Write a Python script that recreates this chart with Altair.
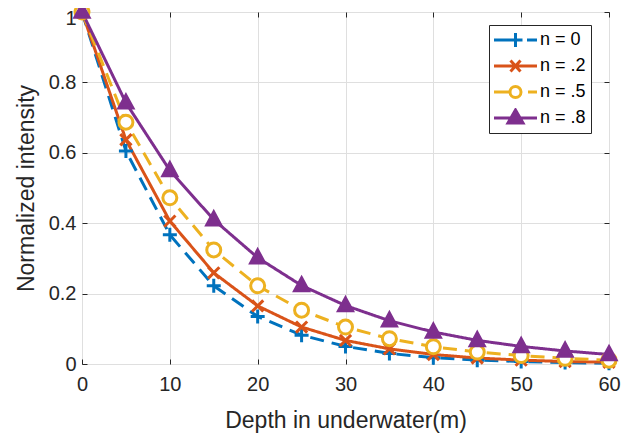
import altair as alt
import pandas as pd

depth = [0, 5, 10, 15, 20, 25, 30, 35, 40, 45, 50, 55, 60]
n_0 = [1.0, 0.605, 0.367, 0.222, 0.135, 0.082, 0.050, 0.030, 0.018, 0.011, 0.007, 0.004, 0.002]
n_2 = [1.0, 0.637, 0.406, 0.259, 0.165, 0.105, 0.067, 0.043, 0.027, 0.017, 0.011, 0.007, 0.005]
n_5 = [1.0, 0.687, 0.472, 0.324, 0.222, 0.153, 0.105, 0.072, 0.049, 0.034, 0.024, 0.016, 0.011]
n_8 = [1.0, 0.742, 0.550, 0.410, 0.302, 0.223, 0.166, 0.123, 0.091, 0.067, 0.050, 0.037, 0.027]

series = ["n = 0", "n = .2", "n = .5", "n = .8"]
values = [n_0, n_2, n_5, n_8]
colors = ["#0072BD", "#D95319", "#EDB120", "#7E2F8E"]
fills = ["#0072BD", "#D95319", "#FFFFFF", "#7E2F8E"]
dashes = [[14, 8], [1, 0], [14, 8], [1, 0]]

x_ticks = [0, 10, 20, 30, 40, 50, 60]
y_ticks = [0, 0.2, 0.4, 0.6, 0.8, 1]


def ring(cx, r):
    # circle drawn as four quarter arcs
    return (f"M{cx + r},0A{r},{r} 0 0,1 {cx},{r}A{r},{r} 0 0,1 {cx - r},0"
            f"A{r},{r} 0 0,1 {cx},{-r}A{r},{r} 0 0,1 {cx + r},0Z")


# marker shapes used on the curves (unit box -1..1)
plot_shapes = [
    "M-1,0H1M0,-1V1",
    "M-0.8,-0.8L0.8,0.8M-0.8,0.8L0.8,-0.8",
    ring(0, 1),
    "M0,-1.1L1,0.75L-1,0.75Z",
]

# legend glyphs: line sample + marker; symbol box is 43px wide (unit 21.5px),
# its centre sits 23px from the legend content's left edge
SYM = 43.0
UNIT = SYM / 2
CEN = 23.0

def ux(p):
    return round((p - CEN) / UNIT, 4)

def uy(p):
    return round(p / UNIT, 4)

def seg(a, b):
    return f"M{ux(a)},0H{ux(b)}"

mx = 21.5
legend_shapes = [
    seg(0, 25) + seg(33, 43) + f"M{ux(mx)},{uy(-7)}V{uy(7)}M{ux(mx - 7)},0H{ux(mx + 7)}",
    seg(0, 43) + f"M{ux(mx - 5)},{uy(-5.5)}L{ux(mx + 5)},{uy(5.5)}M{ux(mx - 5)},{uy(5.5)}L{ux(mx + 5)},{uy(-5.5)}",
    seg(0, 15) + seg(34, 43) + ring(ux(mx), uy(5.5)),
    seg(0, 43) + f"M{ux(mx)},{uy(-8)}L{ux(mx + 7.5)},{uy(5)}L{ux(mx - 7.5)},{uy(5)}Z",
]

rows = []
for name, vals in zip(series, values):
    for d, v in zip(depth, vals):
        rows.append({"depth": d, "value": v, "series": name})
df = pd.DataFrame(rows)

W, H = 527, 352
FONT = "Liberation Sans"
TXT = "#262626"

xs = alt.Scale(domain=[0, 60], nice=False, zero=False)
ys = alt.Scale(domain=[0, 1], nice=False)

base = alt.Chart(df)

lines = base.mark_line(strokeWidth=3).encode(
    x=alt.X("depth:Q", scale=xs, axis=alt.Axis(
        values=x_ticks, grid=True, gridColor="#dfdfdf", ticks=False, domain=False,
        labelFlush=False, labelOverlap=False,
        labelFont=FONT, labelFontSize=20, labelColor=TXT, labelPadding=10,
        title="Depth in underwater(m)", titleFont=FONT, titleFontSize=23,
        titleFontWeight="normal", titleColor=TXT, titleY=63, titleBaseline="alphabetic")),
    y=alt.Y("value:Q", scale=ys, axis=alt.Axis(
        values=y_ticks, format="~g", grid=True, gridColor="#dfdfdf", ticks=False, domain=False,
        labelFlush=False, labelOverlap=False,
        labelOffset=alt.ExprRef("datum.value == 1 ? 6 : 0"),
        labelFont=FONT, labelFontSize=20, labelColor=TXT, labelPadding=6,
        title="Normalized intensity", titleFont=FONT, titleFontSize=23,
        titleFontWeight="normal", titleColor=TXT, titleX=-49, titleBaseline="alphabetic")),
    color=alt.Color("series:N", scale=alt.Scale(domain=series, range=colors), legend=None),
    strokeDash=alt.StrokeDash("series:N", scale=alt.Scale(domain=series, range=dashes), legend=None),
)

tick_common = dict(labels=False, grid=False, domain=False, ticks=True, tickSize=5,
                   tickColor=TXT, tickWidth=1, title=None)

points = base.mark_point(filled=True, strokeWidth=3, opacity=1, size=196).encode(
    x=alt.X("depth:Q", scale=xs, axis=alt.Axis(values=x_ticks, orient="bottom", offset=-H, **tick_common)),
    y=alt.Y("value:Q", scale=ys, axis=alt.Axis(values=y_ticks, orient="left", offset=-W, **tick_common)),
    stroke=alt.Stroke("series:N", scale=alt.Scale(domain=series, range=colors), legend=None),
    fill=alt.Fill("series:N", scale=alt.Scale(domain=series, range=fills), legend=None),
    shape=alt.Shape("series:N", scale=alt.Scale(domain=series, range=plot_shapes), legend=None),
)

leg = alt.Legend(title=None, orient="none", legendX=407, legendY=13, symbolSize=SYM * SYM,
                 symbolStrokeWidth=3, labelFont="Arial", labelFontSize=18, labelColor="#000000",
                 labelOffset=0, clipHeight=20, rowPadding=6, columnPadding=0, padding=5,
                 strokeColor=TXT, fillColor="white", symbolOpacity=1)

legend_layer = base.transform_filter("false").mark_point(filled=True, strokeWidth=3, opacity=1).encode(
    x=alt.X("depth:Q", scale=xs, axis=alt.Axis(values=x_ticks, orient="top", offset=-H, **tick_common)),
    y=alt.Y("value:Q", scale=ys, axis=alt.Axis(values=y_ticks, orient="right", offset=-W, **tick_common)),
    stroke=alt.Stroke("series:N", scale=alt.Scale(domain=series, range=colors), legend=leg),
    fill=alt.Fill("series:N", scale=alt.Scale(domain=series, range=fills), legend=leg),
    shape=alt.Shape("series:N", scale=alt.Scale(domain=series, range=legend_shapes), legend=leg),
)

chart = alt.layer(lines, points, legend_layer).resolve_scale(
    shape="independent"
).resolve_axis(
    x="independent", y="independent"
).resolve_legend(
    stroke="independent", fill="independent", shape="independent"
).properties(
    width=W, height=H,
    autosize=alt.AutoSizeParams(type="none"),
    padding={"left": 74, "top": 4, "right": 20, "bottom": 72},
).configure_view(stroke=TXT, strokeWidth=1)

chart.save("out.html", embed_options={"renderer": "svg", "actions": False})
